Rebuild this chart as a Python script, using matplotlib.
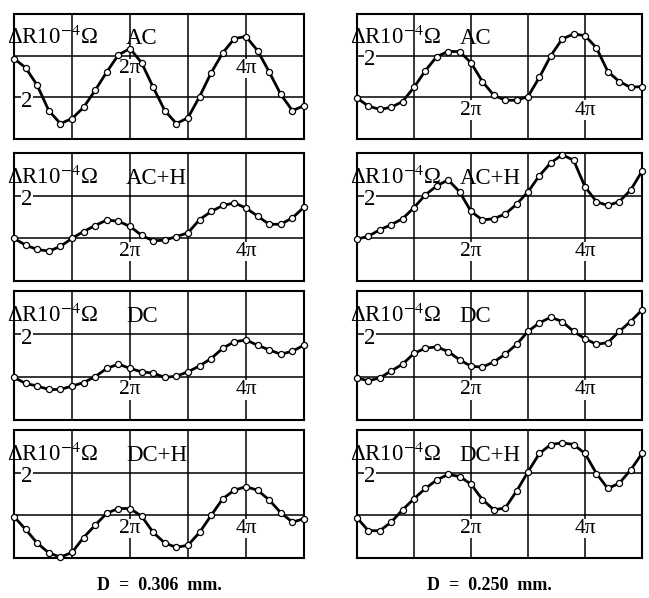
import numpy as np
import matplotlib.pyplot as plt

plt.rcParams['font.family'] = ['Liberation Serif', 'DejaVu Serif']
plt.rcParams['mathtext.fontset'] = 'stix'

# phase of the 26 readings, 0 .. 5 pi
phase = np.linspace(0, 5 * np.pi, 26)

# D = 0.306 mm (left column), values in grid units
ac_306 = [1.93, 1.71, 1.29, 0.68, 0.37, 0.49, 0.76, 1.17, 1.61, 2.02, 2.17, 1.83, 1.24,
          0.68, 0.37, 0.51, 1.02, 1.59, 2.07, 2.41, 2.46, 2.12, 1.61, 1.07, 0.68, 0.80]
ach_306 = [1.00, 0.84, 0.74, 0.70, 0.81, 1.00, 1.16, 1.30, 1.43, 1.40, 1.28, 1.07, 0.94,
           0.96, 1.04, 1.13, 1.44, 1.63, 1.77, 1.83, 1.71, 1.52, 1.33, 1.33, 1.48, 1.73]
dc_306 = [0.99, 0.85, 0.79, 0.71, 0.71, 0.79, 0.87, 1.01, 1.20, 1.30, 1.20, 1.12, 1.09,
          0.99, 1.02, 1.12, 1.26, 1.43, 1.67, 1.82, 1.86, 1.74, 1.63, 1.53, 1.60, 1.74]
dch_306 = [0.97, 0.67, 0.35, 0.12, 0.02, 0.13, 0.48, 0.77, 1.05, 1.16, 1.16, 0.98, 0.60,
           0.35, 0.25, 0.30, 0.60, 1.00, 1.39, 1.59, 1.67, 1.59, 1.36, 1.06, 0.84, 0.92]

# D = 0.250 mm (right column)
ac_250 = [0.98, 0.79, 0.71, 0.76, 0.90, 1.24, 1.64, 1.98, 2.10, 2.10, 1.83, 1.38, 1.05,
          0.93, 0.93, 1.02, 1.48, 2.00, 2.40, 2.52, 2.48, 2.19, 1.62, 1.38, 1.24, 1.26]
ach_250 = [0.98, 1.05, 1.20, 1.32, 1.46, 1.72, 2.02, 2.23, 2.37, 2.09, 1.63, 1.43, 1.46,
           1.57, 1.80, 2.09, 2.47, 2.77, 2.96, 2.83, 2.21, 1.86, 1.77, 1.86, 2.13, 2.57]
dc_250 = [0.98, 0.91, 0.98, 1.14, 1.30, 1.55, 1.67, 1.70, 1.59, 1.40, 1.25, 1.23, 1.35,
          1.53, 1.76, 2.06, 2.26, 2.39, 2.29, 2.06, 1.89, 1.76, 1.80, 2.06, 2.29, 2.56]
dch_250 = [0.94, 0.64, 0.64, 0.84, 1.13, 1.39, 1.63, 1.83, 1.96, 1.91, 1.73, 1.37, 1.13,
           1.17, 1.57, 2.02, 2.45, 2.66, 2.70, 2.66, 2.45, 1.98, 1.63, 1.75, 2.06, 2.45]

conditions = ['AC', 'AC+H', 'DC', 'DC+H']
left_series = [ac_306, ach_306, dc_306, dch_306]
right_series = [ac_250, ach_250, dc_250, dch_250]
captions = ['D  =  0.306  mm.', 'D  =  0.250  mm.']

W, H = 649, 598
fig = plt.figure(figsize=(W / 100, H / 100), dpi=100)

cols = [(14, 304), (357, 642)]
rows = [(14, 139), (153, 281), (291, 420), (430, 558)]


def panel(ax, vals, cond, two_at, pi_at, cond_x):
    ax.set_xlim(0, 5 * np.pi)
    ax.set_ylim(0, 3)
    for k in range(1, 5):
        ax.axvline(k * np.pi, color='k', lw=1.1, zorder=1)
    for k in (1, 2):
        ax.axhline(k, color='k', lw=1.1, zorder=1)
    ax.plot(phase, vals, '-', color='k', lw=2.0, marker='o', ms=4.4,
            mfc='white', mec='k', mew=0.9, clip_on=False, zorder=5)
    ax.set_xticks([])
    ax.set_yticks([])
    for s in ax.spines.values():
        s.set_linewidth(1.5)
    tr = ax.get_yaxis_transform()
    ax.text(-0.025, 2.27, r'ΔR10$^{-4}$Ω', transform=tr, fontsize=16.5,
            ha='left', va='baseline', zorder=6)
    ax.text(cond_x, 2.27, cond, fontsize=16.5, ha='left', va='baseline', zorder=6)
    ax.text(0.025, two_at - 0.1, '2', transform=tr, fontsize=16.5, ha='left',
            va='center', zorder=6,
            bbox=dict(facecolor='white', edgecolor='none', pad=0.3))
    for k, lab in ((2, '2π'), (4, '4π')):
        ax.text(k * np.pi, pi_at - 0.08, lab, fontsize=15.5, ha='center', va='top',
                zorder=4, bbox=dict(facecolor='white', edgecolor='none', pad=0.2))


for c, series in enumerate([left_series, right_series]):
    x0, x1 = cols[c]
    for r, vals in enumerate(series):
        y0, y1 = rows[r]
        ax = fig.add_axes([x0 / W, 1 - y1 / H, (x1 - x0) / W, (y1 - y0) / H])
        if c == 0 and r == 0:
            two_at, pi_at = 1, 2
        else:
            two_at, pi_at = 2, 1
        cond_x = 1.93 * np.pi if c == 0 else 1.8 * np.pi
        panel(ax, vals, conditions[r], two_at, pi_at, cond_x)
    fig.text((x0 + x1) / 2 / W - (0.015 if c else 0), 1 - 586 / H, captions[c],
             ha='center', va='center', fontsize=13, fontweight='bold')

fig.savefig('out.png', dpi=100)
